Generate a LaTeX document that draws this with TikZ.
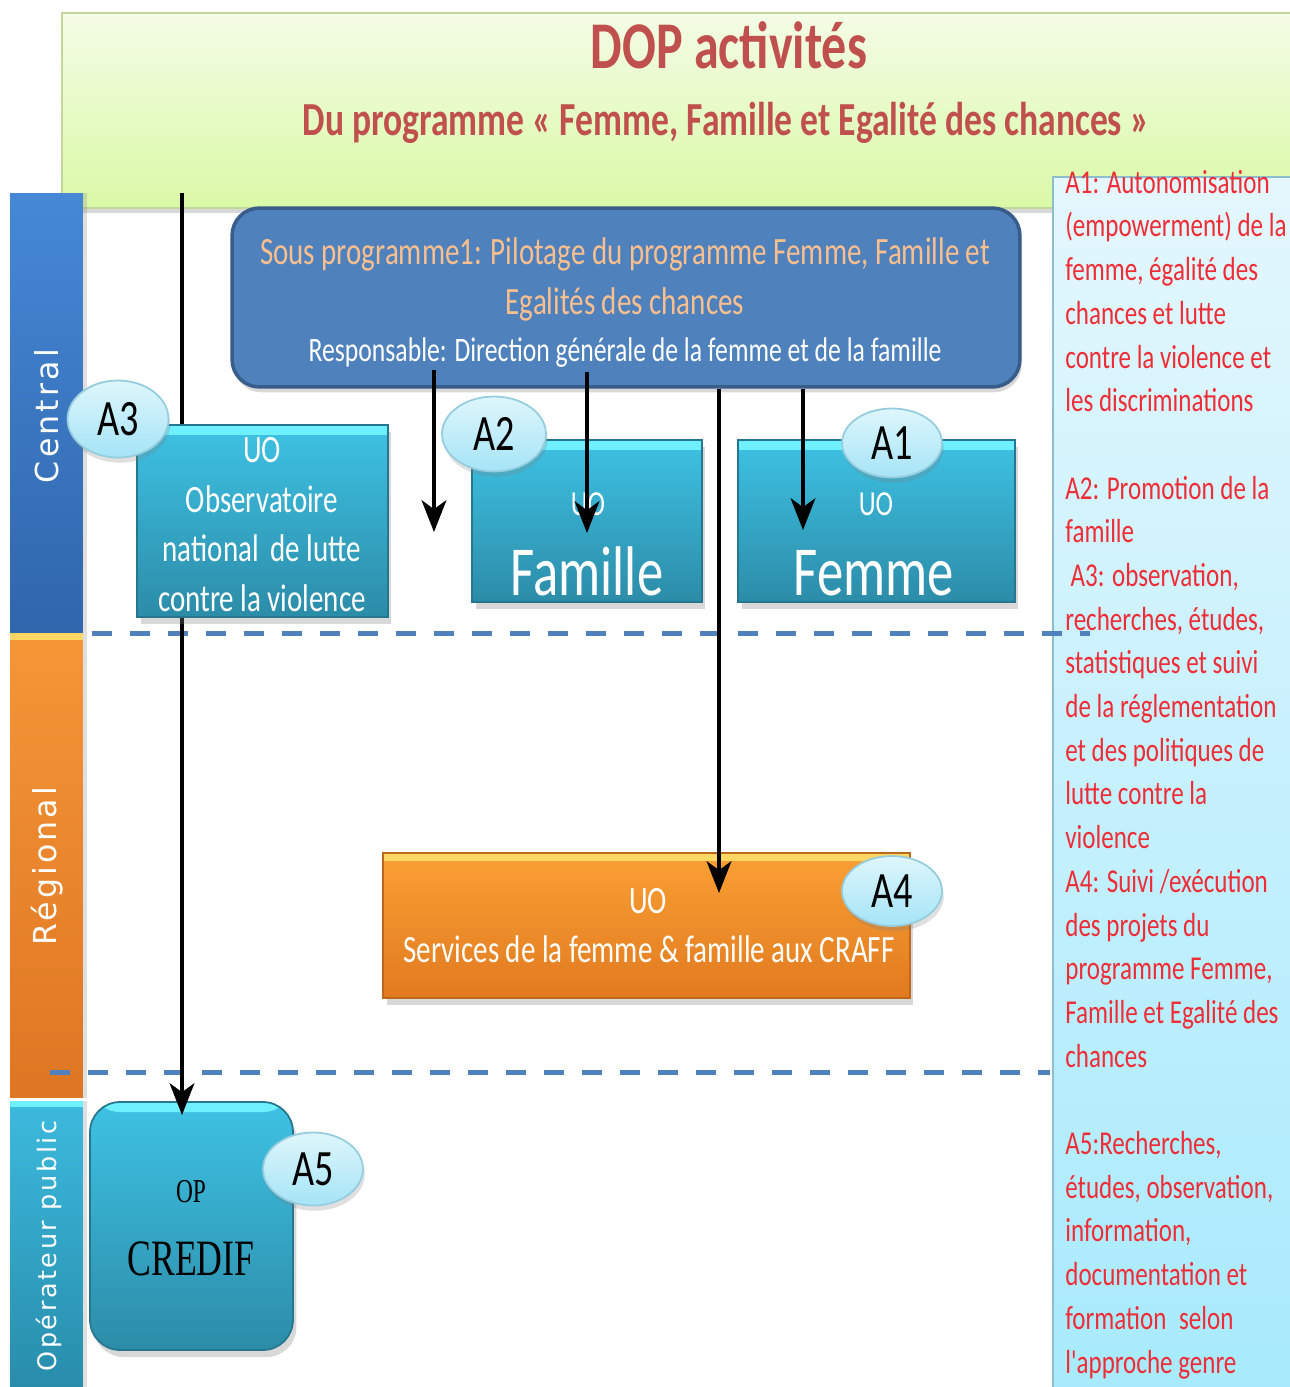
\documentclass[tikz,border=0pt]{standalone}
\usepackage{fontspec}
\setmainfont{Carlito}
\newfontfamily\cond[FakeStretch=0.75]{Carlito}
\newfontfamily\serc[FakeStretch=0.7]{Liberation Serif}
\newfontfamily\vsans[LetterSpace=10]{DejaVu Sans}
\usetikzlibrary{arrows.meta,calc,shadows,shapes.geometric}
\definecolor{titletop}{RGB}{244,252,230}
\definecolor{titlebot}{RGB}{218,249,166}
\definecolor{titleborder}{RGB}{196,215,155}
\definecolor{titletext}{RGB}{192,80,77}
\definecolor{spfill}{RGB}{79,129,189}
\definecolor{spborder}{RGB}{56,93,138}
\definecolor{sporange}{RGB}{250,191,143}
\definecolor{tealtop}{RGB}{62,194,228}
\definecolor{tealbot}{RGB}{44,140,168}
\definecolor{tealhi}{RGB}{110,240,255}
\definecolor{orgtop}{RGB}{250,160,52}
\definecolor{orgbot}{RGB}{225,122,32}
\definecolor{orghi}{RGB}{255,215,100}
\definecolor{elltop}{RGB}{222,246,252}
\definecolor{ellbot}{RGB}{165,228,246}
\definecolor{ellborder}{RGB}{150,205,222}
\definecolor{paneltop}{RGB}{228,247,253}
\definecolor{panelbot}{RGB}{168,234,253}
\definecolor{panelborder}{RGB}{140,190,205}
\definecolor{redtext}{RGB}{238,45,55}
\definecolor{dashblue}{RGB}{79,129,189}
\definecolor{centraltop}{RGB}{70,136,214}
\definecolor{centralbot}{RGB}{48,102,172}
\definecolor{regtop}{RGB}{245,150,55}
\definecolor{regbot}{RGB}{222,118,35}
\definecolor{optop}{RGB}{60,186,222}
\definecolor{opbot}{RGB}{40,140,170}
\tikzset{
  titlebox/.style={rectangle, inner sep=0, top color=titletop, bottom color=titlebot, draw=titleborder, line width=1.2pt,
    drop shadow={shadow xshift=1pt, shadow yshift=-3pt, opacity=0.3}},
  titlefont/.style={inner sep=0, text=titletext, font=\cond\bfseries\fontsize{38}{40}\selectfont},
  subfont/.style={inner sep=0, text=titletext, font=\cond\bfseries\fontsize{27}{28}\selectfont},
  bar/.style 2 args={rectangle, inner sep=0, top color=#1, bottom color=#2, draw=none,
    drop shadow={shadow xshift=2pt, shadow yshift=0pt, opacity=0.25}},
  bartext/.style={inner sep=0, text=white, rotate=90, font=\vsans\fontsize{18}{20}\selectfont},
  panel/.style={rectangle, inner sep=0, top color=paneltop, bottom color=panelbot, draw=panelborder, line width=1.5pt},
  paneltext/.style={inner sep=0, align=left, text=redtext, font=\cond\fontsize{19}{24.87}\selectfont},
  dashline/.style={draw=dashblue, line width=2.85pt, dash pattern=on 0.4cm off 0.36cm},
  spbox/.style={rectangle, rounded corners=0.55cm, inner sep=0, fill=spfill, draw=spborder, line width=2pt,
    drop shadow={shadow xshift=1pt, shadow yshift=-3pt, opacity=0.3}},
  tealbox/.style={rectangle, inner sep=0, top color=tealtop, bottom color=tealbot, draw=tealbot!85!black, line width=1pt,
    drop shadow={shadow xshift=2pt, shadow yshift=-4pt, opacity=0.3},
    path picture={\fill[tealhi] (path picture bounding box.north west) rectangle ($(path picture bounding box.north east)+(0,10)$);}},
  orgbox/.style={rectangle, inner sep=0, top color=orgtop, bottom color=orgbot, draw=orgbot!85!black, line width=1pt,
    drop shadow={shadow xshift=2pt, shadow yshift=-4pt, opacity=0.3},
    path picture={\fill[orghi] (path picture bounding box.north west) rectangle ($(path picture bounding box.north east)+(0,8)$);}},
  whitetext/.style={inner sep=0, text=white},
  ell/.style={ellipse, inner sep=0, top color=elltop, bottom color=ellbot, draw=ellborder, line width=1pt,
    drop shadow={shadow xshift=1pt, shadow yshift=-3pt, opacity=0.25},
    font=\cond\fontsize{29}{30}\selectfont},
  arr/.style={line width=2.6pt, draw=black, -{Stealth[length=18pt, width=14pt, inset=5pt]}},
}
\begin{document}
\begin{tikzpicture}[x=0.02cm, y=-0.02cm]
\useasboundingbox (0,0) rectangle (1290,1387);
\fill[white] (0,0) rectangle (1290,1387);

% title
\node[titlebox, minimum width=24.76cm, minimum height=3.9cm] (title) at (681,110.5) {};
\node[titlefont, anchor=base] (t1) at (729,68) {DOP activités};
\node[subfont, anchor=base] (t2) at (726,135) {Du programme « Femme, Famille et Egalité des chances »};

% left bars
\node[bar={centraltop}{centralbot}, minimum width=1.46cm, minimum height=8.8cm] (central) at (46.5,413) {};
\node[bar={regtop}{regbot}, minimum width=1.46cm, minimum height=9.3cm,
  path picture={\fill[orghi] (path picture bounding box.north west) rectangle ($(path picture bounding box.north east)+(0,7)$);}] (regional) at (46.5,865.5) {};
\node[bar={optop}{opbot}, minimum width=1.46cm, minimum height=5.82cm,
  path picture={\fill[tealhi] (path picture bounding box.north west) rectangle ($(path picture bounding box.north east)+(0,6)$);}] (operateur) at (46.5,1246.5) {};
\node[bartext] (centraltxt) at (47,416) {Central};
\node[bartext] (regionaltxt) at (47,866) {Régional};
\node[bartext, font=\vsans\fontsize{14.5}{16}\selectfont] (operateurtxt) at (49,1246) {Opérateur public};

% right panel
\node[panel, minimum width=4.84cm, minimum height=24.3cm] (panel) at (1174,784.5) {};
\node[paneltext, anchor=base west] (paneltxt) at (1065,1373) {A1: Autonomisation\\
(empowerment) de la\\
femme, égalité des\\
chances et lutte\\
contre la violence et\\
les discriminations\\
\mbox{}\\
A2: Promotion de la\\
famille\\
\hspace{3pt}A3: observation,\\
recherches, études,\\
statistiques et suivi\\
de la réglementation\\
et des politiques de\\
lutte contre la\\
violence\\
A4: Suivi /exécution\\
des projets du\\
programme Femme,\\
Famille et Egalité des\\
chances\\
\mbox{}\\
A5:Recherches,\\
études, observation,\\
information,\\
documentation et\\
formation\hspace{4pt} selon\\
l'approche genre};

% dashed separators
\coordinate (d1a) at (92,633);
\coordinate (d1b) at (1090,633);
\coordinate (d2a) at (50,1072);
\coordinate (d2b) at (1050,1072);
\draw[dashline] (d1a) -- (d1b);
\draw[dashline] (d2a) -- (d2b);

% CREDIF
\node[tealbox, rounded corners=0.6cm, minimum width=4.06cm, minimum height=4.96cm] (credif) at (191.5,1226) {};
\node[inner sep=0, anchor=base, font=\serc\fontsize{19}{20}\selectfont] (optxt) at (191,1202) {OP};
\node[inner sep=0, anchor=base, font=\serc\fontsize{29}{30}\selectfont] (crediftxt) at (191,1275) {CREDIF};

% arrow 1 (behind the observatory box)
\coordinate (s1) at (182,193);
\coordinate (e1) at (182,1115);
\draw[arr] (s1) -- (e1);

% sous programme
\node[spbox, minimum width=15.76cm, minimum height=3.58cm] (sp) at (626,297.5) {};
\node[inner sep=0, anchor=base, text=sporange, font=\cond\fontsize{22}{24}\selectfont] (sp1) at (625,264) {Sous programme1: Pilotage du programme Femme, Famille et};
\node[inner sep=0, anchor=base, text=sporange, font=\cond\fontsize{22}{24}\selectfont] (sp2) at (625,314) {Egalités des chances};
\node[inner sep=0, anchor=base, text=white, font=\cond\fontsize{19.5}{21}\selectfont] (sp3) at (625,361) {Responsable: Direction générale de la femme et de la famille};

% UO observatoire
\node[tealbox, minimum width=5.02cm, minimum height=3.84cm] (obs) at (262.5,521) {};
\node[whitetext, anchor=base, font=\cond\fontsize{22}{24}\selectfont] (obs1) at (262,462) {UO};
\node[whitetext, anchor=base, font=\cond\fontsize{22}{24}\selectfont] (obs2) at (262,512) {Observatoire};
\node[whitetext, anchor=base, font=\cond\fontsize{22}{24}\selectfont] (obs3) at (262,561) {national\hspace{3pt} de lutte};
\node[whitetext, anchor=base, font=\cond\fontsize{22}{24}\selectfont] (obs4) at (262,611) {contre la violence};

% UO Famille
\node[tealbox, minimum width=4.6cm, minimum height=3.24cm] (fam) at (587,521) {};
\node[whitetext, anchor=base, font=\cond\fontsize{20}{22}\selectfont] (fam1) at (588,515) {UO};
\node[whitetext, anchor=base, font=\cond\fontsize{40}{42}\selectfont] (fam2) at (587,595) {Famille};

% UO Femme
\node[tealbox, minimum width=5.54cm, minimum height=3.24cm] (fem) at (876.5,521) {};
\node[whitetext, anchor=base, font=\cond\fontsize{20}{22}\selectfont] (fem1) at (876,515) {UO};
\node[whitetext, anchor=base, font=\cond\fontsize{40}{42}\selectfont] (fem2) at (874,595) {Femme};

% UO Services regionaux
\node[orgbox, minimum width=10.54cm, minimum height=2.9cm] (org) at (646.5,925.5) {};
\node[whitetext, anchor=base, font=\cond\fontsize{22}{24}\selectfont] (org1) at (648,913) {UO};
\node[whitetext, anchor=base, font=\cond\fontsize{22}{24}\selectfont] (org2) at (649,962) {Services de la femme \& famille aux CRAFF};

% arrows from sous programme
\coordinate (e2) at (434,532);
\coordinate (e3) at (587,533);
\coordinate (e4) at (719,893);
\coordinate (e5) at (803,530);
\draw[arr] ($(sp.south -| e2)+(0,-19)$) -- (e2);
\draw[arr] ($(sp.south -| e3)+(0,-17)$) -- (e3);
\draw[arr] (sp.south -| e4) -- (e4);
\draw[arr] (sp.south -| e5) -- (e5);

% activity labels
\node[ell, minimum width=2.02cm, minimum height=1.54cm] (a3) at (118,419) {A3};
\node[ell, minimum width=2.08cm, minimum height=1.5cm] (a2) at (494,434) {A2};
\node[ell, minimum width=2.0cm, minimum height=1.38cm] (a1) at (892,443) {A1};
\node[ell, minimum width=2.0cm, minimum height=1.4cm] (a4) at (892,891) {A4};
\node[ell, minimum width=2.0cm, minimum height=1.46cm] (a5) at (313,1169) {A5};
\end{tikzpicture}
\end{document}
